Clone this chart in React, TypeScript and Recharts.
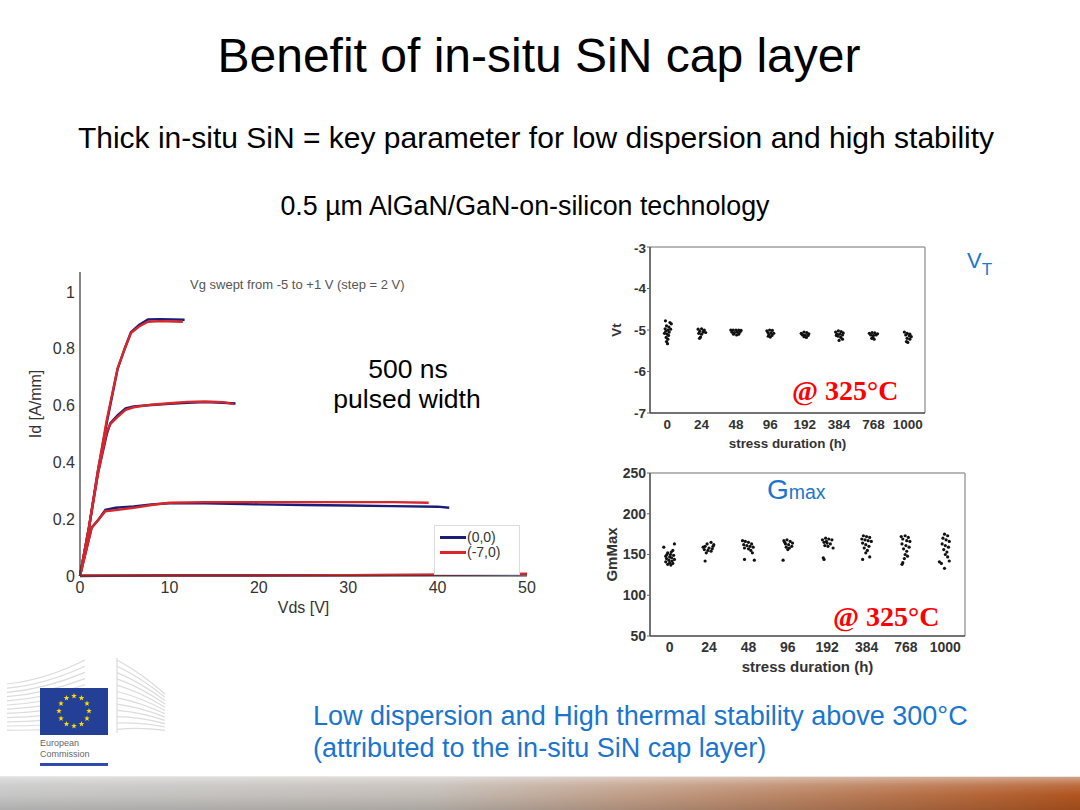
import { LineChart, Line, XAxis, YAxis, ScatterChart, Scatter, ReferenceLine } from "recharts"

// left chart: pulsed Id-Vds, [Vds, Id]
const vdsTicks = [0, 10, 20, 30, 40, 50]
const idTicks = [0, 0.2, 0.4, 0.6, 0.8, 1]

const blueVg1 = [[0, 0], [1, 0.17], [2, 0.37], [3, 0.54], [4.2, 0.728], [5, 0.8], [5.7, 0.858], [6.6, 0.884], [7.6, 0.903], [9, 0.904], [11.7, 0.902]]
const redVg1 = [[0, 0], [1, 0.17], [2, 0.37], [3, 0.55], [4.2, 0.73], [5, 0.8], [5.7, 0.855], [6.6, 0.878], [7.6, 0.895], [9, 0.897], [11.5, 0.895]]
const blueVgm1 = [[0, 0], [1, 0.17], [2, 0.36], [3, 0.5], [3.4, 0.538], [4.2, 0.565], [5.1, 0.59], [6, 0.597], [8, 0.602], [10, 0.606], [12, 0.61], [14, 0.612], [16, 0.61], [17.4, 0.607]]
const redVgm1 = [[0, 0], [1, 0.17], [2, 0.36], [3, 0.51], [3.4, 0.535], [4.2, 0.56], [5.1, 0.585], [6, 0.594], [8, 0.603], [10, 0.608], [12, 0.613], [14, 0.614], [16, 0.612], [17.2, 0.605]]
const blueVgm3 = [[0, 0], [1.3, 0.17], [2.1, 0.2], [2.84, 0.233], [4, 0.24], [6, 0.245], [8, 0.252], [10, 0.256], [14, 0.256], [20, 0.252], [25, 0.25], [30, 0.248], [35, 0.246], [40, 0.244], [41.3, 0.24]]
const redVgm3 = [[0, 0], [1.3, 0.17], [2.1, 0.2], [2.84, 0.228], [4, 0.232], [6, 0.24], [8, 0.25], [10, 0.258], [14, 0.26], [20, 0.26], [25, 0.26], [30, 0.26], [35, 0.26], [39, 0.258]]
const blueVgm5 = [[0, 0], [10, 0.003], [20, 0.003], [30, 0.003], [40, 0.004], [50, 0.006]]
const redVgm5 = [[0, 0.002], [10, 0.002], [20, 0.002], [30, 0.003], [40, 0.005], [50, 0.008]]

const legendNames = ["(0,0)", "(-7,0)"]
const BLUE = "#1c1c7a"
const RED = "#d8262a"

// right charts: stress duration categories
const durations = ["0", "24", "48", "96", "192", "384", "768", "1000"]
const durationIdx = [0, 1, 2, 3, 4, 5, 6, 7]
const vtTicks = [-7, -6, -5, -4, -3]
const gmTicks = [50, 100, 150, 200, 250]

// [category position, value]
const vtPoints = [
  [-0.05, -4.78], [0.08, -4.82], [0.12, -4.85], [-0.02, -4.9], [0.05, -4.93], [-0.06, -4.97], [0.02, -5.0], [0.1, -4.98], [-0.04, -5.03], [0.06, -5.05], [-0.08, -5.08], [0.0, -5.1], [0.04, -5.13], [-0.03, -5.18], [0.02, -5.22], [-0.02, -5.28], [0.01, -5.33],
  [0.9, -4.98], [1.0, -4.97], [1.08, -5.0], [0.95, -5.03], [1.05, -5.05], [1.12, -5.06], [0.92, -5.08], [1.0, -5.1], [0.97, -5.17], [0.94, -5.2], [1.06, -5.02],
  [1.85, -5.0], [1.92, -5.0], [2.0, -5.0], [2.08, -5.0], [2.15, -5.01], [1.88, -5.05], [1.96, -5.06], [2.04, -5.05], [2.12, -5.05], [1.93, -5.1], [2.02, -5.12], [2.08, -5.1],
  [2.9, -5.02], [2.98, -5.0], [3.06, -5.01], [2.93, -5.06], [3.02, -5.07], [3.1, -5.08], [2.96, -5.11], [3.05, -5.13], [3.0, -5.17], [2.94, -5.15],
  [3.9, -5.08], [3.98, -5.05], [4.06, -5.06], [4.12, -5.09], [3.94, -5.12], [4.02, -5.12], [4.1, -5.13], [3.98, -5.16], [4.05, -5.18], [3.92, -5.1],
  [4.9, -5.05], [4.98, -5.02], [5.06, -5.04], [5.12, -5.07], [4.94, -5.1], [5.02, -5.1], [5.1, -5.12], [4.97, -5.15], [5.05, -5.18], [5.0, -5.25], [5.1, -5.22], [4.92, -5.13],
  [5.88, -5.08], [5.96, -5.06], [6.04, -5.07], [6.12, -5.09], [5.92, -5.12], [6.0, -5.13], [6.08, -5.12], [5.98, -5.18], [6.02, -5.22], [5.95, -5.2],
  [6.9, -5.05], [6.98, -5.08], [7.06, -5.1], [6.94, -5.12], [7.04, -5.14], [7.1, -5.16], [6.98, -5.2], [7.06, -5.22], [6.96, -5.28], [7.0, -5.3],
]

const gmPoints = [
  [-0.15, 159], [0.12, 163], [0.08, 155], [-0.05, 152], [0.02, 150], [0.1, 149], [-0.1, 148], [0.0, 147], [0.05, 146], [-0.08, 145], [0.12, 144], [-0.02, 143], [0.06, 142], [-0.1, 141], [0.0, 140], [0.08, 139], [-0.05, 138], [0.03, 137], [-0.07, 150], [0.04, 153],
  [0.85, 159], [0.95, 163], [1.05, 165], [1.12, 162], [0.9, 160], [1.0, 158], [1.08, 157], [0.88, 156], [0.97, 155], [1.05, 154], [0.93, 152], [1.1, 160], [0.9, 142],
  [1.85, 167], [1.92, 166], [2.0, 165], [2.08, 163], [1.88, 162], [1.96, 161], [2.04, 160], [2.12, 159], [1.9, 158], [2.0, 157], [2.06, 155], [2.1, 152], [1.9, 144], [2.15, 143],
  [2.9, 167], [2.98, 168], [3.06, 166], [3.12, 164], [2.94, 163], [3.02, 162], [3.1, 160], [2.96, 159], [3.04, 158], [3.0, 156], [2.92, 165], [2.88, 143],
  [3.88, 168], [3.96, 170], [4.04, 169], [4.12, 168], [3.92, 165], [4.0, 164], [4.08, 163], [3.94, 161], [4.02, 160], [4.15, 158], [3.98, 166], [3.9, 146], [3.92, 144],
  [4.92, 173], [5.0, 172], [5.08, 171], [4.88, 169], [4.96, 168], [5.04, 167], [5.12, 166], [4.9, 164], [4.98, 162], [5.06, 160], [4.94, 158], [5.02, 155], [4.98, 152], [5.08, 147], [4.9, 144],
  [5.88, 172], [5.98, 173], [6.06, 171], [5.92, 169], [6.02, 167], [6.1, 166], [5.9, 163], [6.0, 161], [6.08, 159], [5.94, 157], [6.02, 154], [5.98, 150], [6.04, 148], [5.96, 145], [5.92, 140], [5.9, 138],
  [6.98, 175], [7.06, 173], [6.94, 170], [7.02, 168], [7.1, 166], [6.92, 163], [7.0, 161], [7.08, 159], [6.96, 156], [7.04, 153], [7.0, 150], [7.06, 147], [6.85, 141], [6.9, 139], [7.1, 142], [6.98, 133],
]

const toXY = (pts: number[][]) => pts.map(([x, y]) => ({ x, y }))

const curves = [
  { id: "b1", data: toXY(blueVg1), color: BLUE },
  { id: "b2", data: toXY(blueVgm1), color: BLUE },
  { id: "b3", data: toXY(blueVgm3), color: BLUE },
  { id: "b4", data: toXY(blueVgm5), color: BLUE },
  { id: "r1", data: toXY(redVg1), color: RED },
  { id: "r2", data: toXY(redVgm1), color: RED },
  { id: "r3", data: toXY(redVgm3), color: RED },
  { id: "r4", data: toXY(redVgm5), color: RED },
]

const FONT = "'Liberation Sans', Arial, sans-serif"
const SERIF = "'Liberation Serif', 'Times New Roman', serif"
const BLUE_TXT = "#1a75cf"

const Dot = (p: any) => <circle cx={p.cx} cy={p.cy} r={1.6} fill="#111" />

function Txt({ x, y, size, children, color = "#000", center, style }: any) {
  // y = baseline
  const top = y - 0.8465 * size
  const s: any = { position: "absolute", top, fontSize: size, lineHeight: `${size}px`, color, whiteSpace: "nowrap", fontFamily: FONT, ...style }
  if (center !== undefined) {
    s.left = center - 600
    s.width = 1200
    s.textAlign = "center"
  } else s.left = x
  return <div style={s}>{children}</div>
}

function IdVdsChart() {
  const tickStyle = { fontSize: 16, fill: "#333", fontFamily: FONT }
  return (
    <div style={{ position: "absolute", left: 20, top: 260 }}>
      <LineChart width={530} height={360} margin={{ top: 12, right: 23, bottom: 0, left: 0 }}>
        <XAxis
          type="number"
          dataKey="x"
          domain={[0, 50]}
          ticks={vdsTicks}
          height={44}
          tickLine={false}
          tickSize={5}
          tickMargin={1}
          axisLine={{ stroke: "#333", strokeWidth: 1.2 }}
          tick={tickStyle}
          label={{ value: "Vds [V]", position: "insideBottom", offset: 7, fontSize: 16, fill: "#333", fontFamily: FONT }}
        />
        <YAxis
          type="number"
          domain={[0, 1.07]}
          ticks={idTicks}
          width={60}
          tickLine={false}
          tickSize={4}
          tickMargin={1}
          axisLine={{ stroke: "#333", strokeWidth: 1.2 }}
          tick={tickStyle}
          label={{ value: "Id [A/mm]", angle: -90, position: "center", dx: -15, dy: -20, fontSize: 16, fill: "#333", fontFamily: FONT }}
        />
        {curves.map((c) => (
          <Line
            key={c.id}
            data={c.data}
            dataKey="y"
            type="linear"
            stroke={c.color}
            strokeWidth={2.4}
            dot={false}
            isAnimationActive={false}
          />
        ))}
      </LineChart>
    </div>
  )
}

function StressChart({ left, top, width, height, mt, xh, data, domain, ticks, yLabel, fs, lfs, labelOffset, labelDx }: any) {
  const tickStyle = { fontSize: fs, fill: "#333", fontWeight: "bold", fontFamily: FONT }
  return (
    <div style={{ position: "absolute", left, top }}>
      <ScatterChart width={width} height={height} margin={{ top: mt, right: 5, bottom: 0, left: 0 }}>
        <XAxis
          type="number"
          dataKey="x"
          domain={[-0.5, 7.5]}
          ticks={durationIdx}
          interval={0}
          tickFormatter={(i: number) => durations[i]}
          height={xh}
          tickLine={false}
          tickSize={3}
          tickMargin={3}
          axisLine={{ stroke: "#444", strokeWidth: 1.5 }}
          tick={tickStyle}
          label={{ value: "stress duration (h)", position: "insideBottom", offset: labelOffset, fontSize: lfs, fill: "#333", fontWeight: "bold", fontFamily: FONT }}
        />
        <YAxis
          type="number"
          dataKey="y"
          domain={domain}
          ticks={ticks}
          width={50}
          tickSize={3}
          tickMargin={1}
          tickLine={{ stroke: "#666" }}
          axisLine={{ stroke: "#444", strokeWidth: 1.5 }}
          tick={tickStyle}
          label={{ value: yLabel, angle: -90, position: "center", dx: labelDx, fontSize: lfs, fill: "#333", fontWeight: "bold", fontFamily: FONT }}
        />
        <ReferenceLine y={domain[1]} stroke="#a0a0a0" strokeWidth={1.5} />
        <ReferenceLine x={7.5} stroke="#a0a0a0" strokeWidth={1.5} />
        <Scatter data={toXY(data)} shape={Dot} isAnimationActive={false} />
      </ScatterChart>
    </div>
  )
}

function EuLogo() {
  const stars = Array.from({ length: 12 }, (_, i) => {
    const a = (i * Math.PI) / 6
    return [74 + 15 * Math.sin(a), 61 - 15 * Math.cos(a)]
  })
  const star = (cx: number, cy: number) => {
    const pts = []
    for (let k = 0; k < 10; k++) {
      const r = k % 2 === 0 ? 3 : 1.2
      const a = (k * Math.PI) / 5
      pts.push(`${cx + r * Math.sin(a)},${cy - r * Math.cos(a)}`)
    }
    return pts.join(" ")
  }
  const rows = Array.from({ length: 12 }, (_, k) => k)
  return (
    <svg style={{ position: "absolute", left: 0, top: 650 }} width={200} height={125}>
      {rows.map((k) => (
        <path key={"l" + k} d={`M7 ${34 + k * 4.2} Q45 ${30 + k * 4.6} 85 ${10 + k * 6.2}`} stroke="#dcdcdc" strokeWidth={1.2} fill="none" />
      ))}
      <line x1={117} y1={8} x2={117} y2={83} stroke="#dcdcdc" strokeWidth={1.2} />
      {rows.map((k) => (
        <path key={"r" + k} d={`M117 ${10 + k * 6.3} Q140 ${22 + k * 5} 165 ${44 + k * 3.3}`} stroke="#dcdcdc" strokeWidth={1.2} fill="none" />
      ))}
      <rect x={40} y={38} width={68} height={47} fill="#233f96" />
      {stars.map(([x, y], i) => (
        <polygon key={i} points={star(x, y)} fill="#ffdd00" />
      ))}
      <text x={40} y={96} fontSize={9} fill="#666" fontFamily={FONT}>European</text>
      <text x={40} y={107} fontSize={9} fill="#666" fontFamily={FONT}>Commission</text>
      <rect x={40} y={113} width={68} height={3} fill="#2d4bb0" />
    </svg>
  )
}

export default function App() {
  return (
    <div style={{ position: "absolute", left: 0, top: 0, width: 1080, height: 810, background: "#fff", overflow: "hidden", fontFamily: FONT }}>
      <Txt center={539} y={73} size={48}>Benefit of in-situ SiN cap layer</Txt>
      <Txt center={536} y={148} size={30}>Thick in-situ SiN = key parameter for low dispersion and high stability</Txt>
      <Txt center={525} y={216} size={26.8}>0.5 µm AlGaN/GaN-on-silicon technology</Txt>

      <IdVdsChart />
      <Txt x={190} y={289} size={13} color="#555">Vg swept from -5 to +1 V (step = 2 V)</Txt>
      <Txt center={408} y={378} size={26.5}>500 ns</Txt>
      <Txt center={407} y={408} size={26.5}>pulsed width</Txt>

      <div style={{ position: "absolute", left: 434, top: 525, width: 86, height: 50, border: "1px solid #ddd", background: "#fff", boxSizing: "border-box" }}>
        {legendNames.map((n, i) => (
          <div key={n} style={{ position: "absolute", left: 5, top: 4 + i * 15, height: 15, display: "flex", alignItems: "center" }}>
            <div style={{ width: 26, height: 2.5, background: i === 0 ? BLUE : RED }} />
            <span style={{ fontSize: 14, lineHeight: "15px", color: "#333", marginLeft: 1, fontFamily: FONT }}>{n}</span>
          </div>
        ))}
      </div>

      <StressChart left={600} top={240} width={330} height={215} mt={7} xh={42} data={vtPoints} domain={[-7, -3]} ticks={vtTicks} yLabel="Vt" fs={13.5} lfs={13.4} labelOffset={7} labelDx={-9} />
      <StressChart left={600} top={465} width={370} height={215} mt={8} xh={44} data={gmPoints} domain={[50, 250]} ticks={gmTicks} yLabel="GmMax" fs={14} lfs={15} labelOffset={8} labelDx={-13} />

      <Txt x={792} y={401} size={28} color="#f00" style={{ fontFamily: SERIF, fontWeight: "bold" }}>@ 325°C</Txt>
      <Txt x={833} y={627} size={28} color="#f00" style={{ fontFamily: SERIF, fontWeight: "bold" }}>@ 325°C</Txt>

      <Txt x={967} y={269} size={22} color={BLUE_TXT}>V<span style={{ fontSize: 17, position: "relative", top: 7 }}>T</span></Txt>
      <Txt x={767} y={500} size={28} color={BLUE_TXT}>G<span style={{ fontSize: 19.5 }}>max</span></Txt>

      <EuLogo />

      <Txt x={313} y={726} size={27} color={BLUE_TXT}>Low dispersion and High thermal stability above 300°C</Txt>
      <Txt x={313} y={758} size={27} color={BLUE_TXT}>(attributed to the in-situ SiN cap layer)</Txt>

      <div style={{ position: "absolute", left: 0, top: 776, width: 1080, height: 34, background: "linear-gradient(to right, #c6c6c6 0%, #c2bcb6 40%, #c09e88 58%, #b87c58 78%, #b0541f 100%)" }}>
        <div style={{ position: "absolute", inset: 0, background: "linear-gradient(to bottom, rgba(255,255,255,0.45) 0%, rgba(255,255,255,0.15) 25%, rgba(255,255,255,0) 55%, rgba(0,0,0,0.12) 100%)", borderTop: "1px solid #e8e8e8" }} />
      </div>
    </div>
  )
}
